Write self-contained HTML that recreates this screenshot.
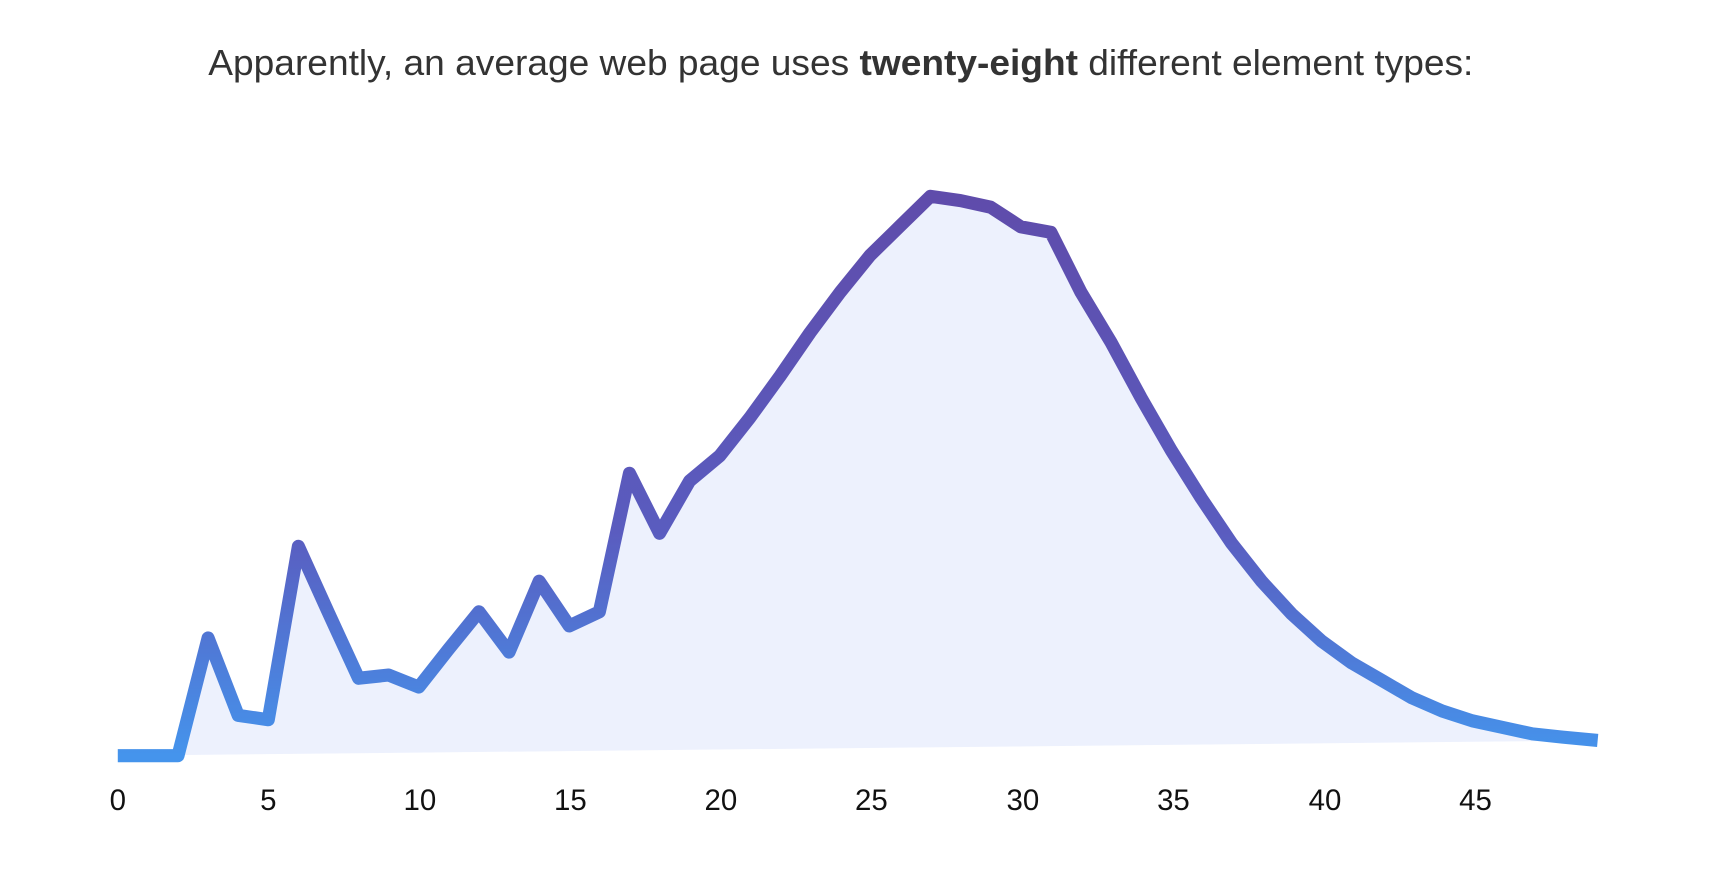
<!DOCTYPE html>
<html><head><meta charset="utf-8"><style>
html,body{margin:0;padding:0;background:#fff;width:1710px;height:876px;overflow:hidden}
svg{display:block}
</style></head><body>
<svg width="1710" height="876" viewBox="0 0 1568 803.3" preserveAspectRatio="none">
<defs>
<linearGradient id="g" gradientUnits="userSpaceOnUse" x1="0" y1="180" x2="0" y2="693">
<stop offset="0" stop-color="#5f4cab"/><stop offset="0.6" stop-color="#5a5cbf"/><stop offset="1" stop-color="#4594ec"/>
</linearGradient>
</defs>
<text x="771" y="69" text-anchor="middle" font-family="Liberation Sans, sans-serif" font-size="33" fill="#333" textLength="1160" lengthAdjust="spacingAndGlyphs">Apparently, an average web page uses <tspan font-weight="bold">twenty-eight</tspan> different element types:</text>
<polygon fill="#edf1fd" points="108,693 135.6,693 163.2,693 190.8,585 218.4,656 246,660 273.6,501 301.2,562 328.8,622 356.4,619 384,630 411.6,595 439.2,561 466.8,598 494.4,533 522,574 549.6,561 577.2,434 604.8,489 632.4,441 660,418 687.6,383 715.2,345 742.8,305 770.4,268 798,234 825.6,207 853.2,180 880.8,184 908.4,190 936,208 963.6,213 991.2,268 1018.8,314 1046.4,365 1074,413 1101.6,457 1129.2,498 1156.8,533 1184.4,563 1212,588 1239.6,608 1267.2,624 1294.8,640 1322.4,652 1350,661 1377.6,667 1405.2,673 1432.8,676 1465,679"/>
<polyline fill="none" stroke="url(#g)" stroke-width="12" stroke-linejoin="round" points="108,693 135.6,693 163.2,693 190.8,585 218.4,656 246,660 273.6,501 301.2,562 328.8,622 356.4,619 384,630 411.6,595 439.2,561 466.8,598 494.4,533 522,574 549.6,561 577.2,434 604.8,489 632.4,441 660,418 687.6,383 715.2,345 742.8,305 770.4,268 798,234 825.6,207 853.2,180 880.8,184 908.4,190 936,208 963.6,213 991.2,268 1018.8,314 1046.4,365 1074,413 1101.6,457 1129.2,498 1156.8,533 1184.4,563 1212,588 1239.6,608 1267.2,624 1294.8,640 1322.4,652 1350,661 1377.6,667 1405.2,673 1432.8,676 1465,679"/>
<g font-family="Liberation Sans, sans-serif" font-size="27" fill="#111" text-anchor="middle">
<text x="108" y="743">0</text><text x="246" y="743">5</text><text x="385" y="743">10</text><text x="523" y="743">15</text><text x="661" y="743">20</text><text x="799" y="743">25</text><text x="938" y="743">30</text><text x="1076" y="743">35</text><text x="1215" y="743">40</text><text x="1353" y="743">45</text>
</g>
</svg>
</body></html>
